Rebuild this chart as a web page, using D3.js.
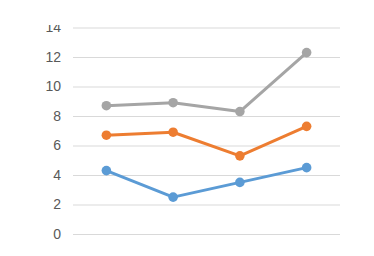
<!DOCTYPE html>
<html><head><meta charset="utf-8">
<script src="https://cdn.jsdelivr.net/npm/d3@7"></script>
<style>html,body{margin:0;padding:0;background:#fff;}svg{display:block;}</style>
</head><body>
<script>
const categories = ["Category 1", "Category 2", "Category 3", "Category 4"];
const seriesNames = ["Series 1", "Series 2", "Series 3"];
const series1 = [4.3, 2.5, 3.5, 4.5];
const series2 = [2.4, 4.4, 1.8, 2.8];
const series3 = [2, 2, 3, 5];
const yTicks = [0, 2, 4, 6, 8, 10, 12, 14];
const colors = ["#5B9BD5", "#ED7D31", "#A5A5A5"];

const W = 374, H = 256;
const svg = d3.select("body").append("svg").attr("width", W).attr("height", H);
svg.append("defs").append("clipPath").attr("id", "c")
  .append("rect").attr("x", 0).attr("y", 25).attr("width", W).attr("height", H - 25);
const root = svg.append("g").attr("clip-path", "url(#c)");

const x = d3.scalePoint().domain(categories).range([73, 340]).padding(0.5);
const y = d3.scaleLinear().domain([0, 14]).range([234, 27.5]);

const rows = categories.map((c, i) => ({cat: c, s0: series1[i], s1: series2[i], s2: series3[i]}));
const stacked = d3.stack().keys(["s0", "s1", "s2"])(rows);

const yAxis = d3.axisLeft(y).tickValues(yTicks).tickSize(-(340 - 73)).tickPadding(12);
const ga = root.append("g").attr("transform", "translate(73,0)").call(yAxis);
ga.select(".domain").remove();
ga.selectAll(".tick line").attr("stroke", "#D9D9D9").attr("stroke-width", 1);
ga.selectAll(".tick text").attr("fill", "#595959")
  .style("font-family", "'Liberation Sans', Arial, sans-serif").style("font-size", "14px");

const line = d3.line().x(d => x(d.data.cat)).y(d => y(d[1]));
stacked.forEach((s, k) => {
  root.append("path").datum(s).attr("fill", "none").attr("stroke", colors[k])
    .attr("stroke-width", 3).attr("stroke-linejoin", "round").attr("d", line);
  root.selectAll(null).data(s).enter().append("circle")
    .attr("cx", d => x(d.data.cat)).attr("cy", d => y(d[1])).attr("r", 4.8)
    .attr("fill", colors[k]);
});
</script>
</body></html>
